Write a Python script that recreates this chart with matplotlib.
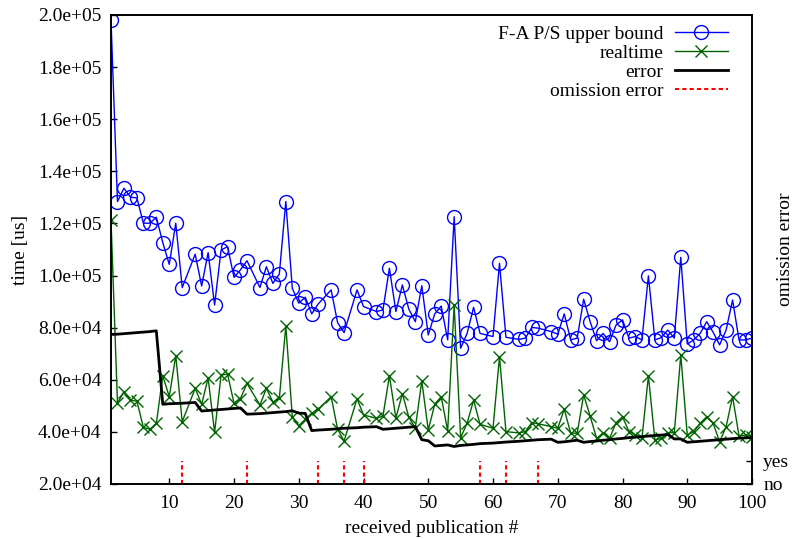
import numpy as np
import matplotlib
matplotlib.use("Agg")
import matplotlib.pyplot as plt
from matplotlib.ticker import FixedLocator, FuncFormatter
from matplotlib.lines import Line2D

plt.rcParams['font.family'] = ['Liberation Serif', 'DejaVu Serif']
plt.rcParams['font.size'] = 14

missing = [13, 23, 34, 38, 41, 59, 63, 68]
received = [i for i in range(1, 101) if i not in missing]

upper_bound_k = [
    198.1, 128.4, 133.5, 130.1, 129.8, 120.1, 120.1, 122.4, 112.6, 104.3,
    120.1, 95.4, 108.2, 96.0, 108.8, 88.7, 109.8, 111.1, 99.3, 102.2,
    105.7, 95.4, 103.4, 97.0, 100.6, 128.4, 95.1, 89.4, 91.7, 85.3,
    89.1, 94.5, 81.9, 78.1, 94.5, 88.1, 86.2, 86.8, 102.8, 86.2,
    96.4, 87.1, 82.3, 96.1, 77.2, 85.3, 88.3, 75.3, 122.6, 72.1,
    77.8, 87.8, 77.8, 76.6, 104.7, 76.3, 75.5, 76.0, 80.1, 79.8,
    78.5, 77.5, 85.3, 75.3, 76.0, 90.9, 82.3, 75.0, 77.8, 74.6,
    81.0, 83.0, 76.0, 76.6, 75.3, 99.9, 75.3, 76.2, 79.1, 76.0,
    107.0, 73.7, 75.3, 77.8, 82.3, 78.2, 73.4, 79.1, 90.6, 75.3,
    75.3, 76.0]

realtime_k = [
    121.4, 51.0, 55.5, 52.2, 51.8, 41.7, 41.0, 43.3, 61.5, 53.5,
    69.3, 43.9, 56.7, 50.6, 60.7, 39.8, 61.8, 62.2, 51.0, 52.8,
    58.6, 50.3, 56.7, 51.5, 52.9, 80.7, 45.8, 42.3, 44.8, 47.1,
    48.7, 53.5, 41.0, 36.5, 52.7, 46.5, 45.2, 46.1, 61.5, 45.3,
    54.7, 45.6, 41.5, 59.6, 40.7, 50.6, 53.5, 40.4, 88.7, 37.8,
    43.3, 52.2, 42.9, 41.4, 68.8, 40.1, 39.6, 40.1, 43.6, 43.1,
    42.0, 41.4, 48.7, 39.5, 39.5, 54.2, 46.1, 37.5, 39.5, 37.5,
    43.5, 45.8, 40.1, 38.8, 37.5, 61.5, 36.9, 37.5, 39.7, 39.7,
    69.5, 38.8, 40.1, 43.3, 45.8, 43.3, 36.2, 42.0, 53.5, 38.4,
    38.8, 38.2]

error_k = [
    77.4, 77.5, 77.7, 77.9, 78.1, 78.3, 78.5, 78.8, 50.6, 50.8,
    50.9, 51.0, 51.3, 48.0, 48.2, 48.4, 48.6, 48.8, 49.0, 49.2,
    46.8, 47.0, 47.2, 47.4, 47.6, 47.8, 48.1, 47.2, 47.1, 40.5,
    40.7, 41.0, 41.2, 41.4, 41.6, 41.8, 42.0, 41.0, 41.2, 41.4,
    41.6, 41.8, 42.0, 37.0, 36.6, 34.6, 34.8, 35.0, 34.4, 34.8,
    35.0, 35.2, 35.5, 35.7, 35.9, 36.1, 36.4, 36.6, 36.8, 37.0,
    37.2, 36.0, 36.2, 36.5, 36.8, 36.0, 36.3, 36.5, 36.8, 37.0,
    37.3, 37.5, 37.8, 38.0, 38.2, 38.4, 38.6, 38.8, 39.0, 37.3,
    37.3, 36.0, 36.2, 36.4, 36.6, 36.8, 37.0, 37.2, 37.4, 37.6,
    37.7, 37.8]

omission_x = [12, 22, 33, 37, 40, 58, 62, 67]
omission_val = [1, 1, 1, 1, 1, 1, 1, 1]

y_ticks = [20000, 40000, 60000, 80000, 100000, 120000, 140000, 160000, 180000, 200000]
x_ticks = [10, 20, 30, 40, 50, 60, 70, 80, 90, 100]
y2_ticks = [0, 1]
y2_labels = ["no", "yes"]

fig = plt.figure(figsize=(7.94, 5.39), dpi=100)
ax = fig.add_axes([111/794, 1 - 484/539, (752-111)/794, (484-15)/539])

ub = np.array(upper_bound_k) * 1000
rt = np.array(realtime_k) * 1000
er = np.array(error_k) * 1000

l1, = ax.plot(received, ub, color='#0000ff', lw=1.0, marker='o', markersize=10,
              markerfacecolor='none', markeredgecolor='#0000ff', markeredgewidth=1.0,
              label='F-A P/S upper bound', zorder=3)
l2, = ax.plot(received, rt, color='#006400', lw=1.0, marker='x', markersize=9,
              markeredgewidth=1.0, label='realtime', zorder=3)
l3, = ax.plot(received, er, color='black', lw=2.0, label='error', zorder=4)

ax.set_xlim(1, 100)
ax.set_ylim(20000, 200000)
ax.xaxis.set_major_locator(FixedLocator(x_ticks))
ax.yaxis.set_major_locator(FixedLocator(y_ticks))
ax.yaxis.set_major_formatter(FuncFormatter(lambda v, p: f"{v:.1e}"))
ax.tick_params(direction='in', length=4, width=1, top=False, right=False)
ax.tick_params(axis='y', pad=7)
ax.tick_params(axis='x', pad=8)
for s in ax.spines.values():
    s.set_linewidth(1.2)
ax.set_xlabel('received publication #', labelpad=6)
ax.set_ylabel('time [us]', labelpad=6)

ax2 = ax.twinx()
ax2.set_ylim(0, 20)
ax2.vlines(omission_x, 0, omission_val, colors='red', linestyles=(0, (2, 1.5)),
           lw=1.5, label='omission error')
ax2.yaxis.set_major_locator(FixedLocator(y2_ticks))
ax2.set_yticklabels(y2_labels)
ax2.tick_params(direction='in', length=4, width=1, pad=8)
ax2.set_ylabel('omission error')
ax2.yaxis.set_label_coords((777 - 111) / 641, 0.5)
for s in ax2.spines.values():
    s.set_linewidth(1.2)

h4 = Line2D([], [], color='red', lw=1.5, linestyle=(0, (2, 1.5)))
leg = ax2.legend([l1, l2, l3, h4],
                 ['F-A P/S upper bound', 'realtime', 'error', 'omission error'],
                 loc='upper right', bbox_to_anchor=(0.962, 0.978), frameon=False,
                 markerfirst=False, handlelength=2.7, handletextpad=0.6,
                 labelspacing=0.07, borderpad=0, borderaxespad=0)

fig.savefig('out.png', dpi=100)
